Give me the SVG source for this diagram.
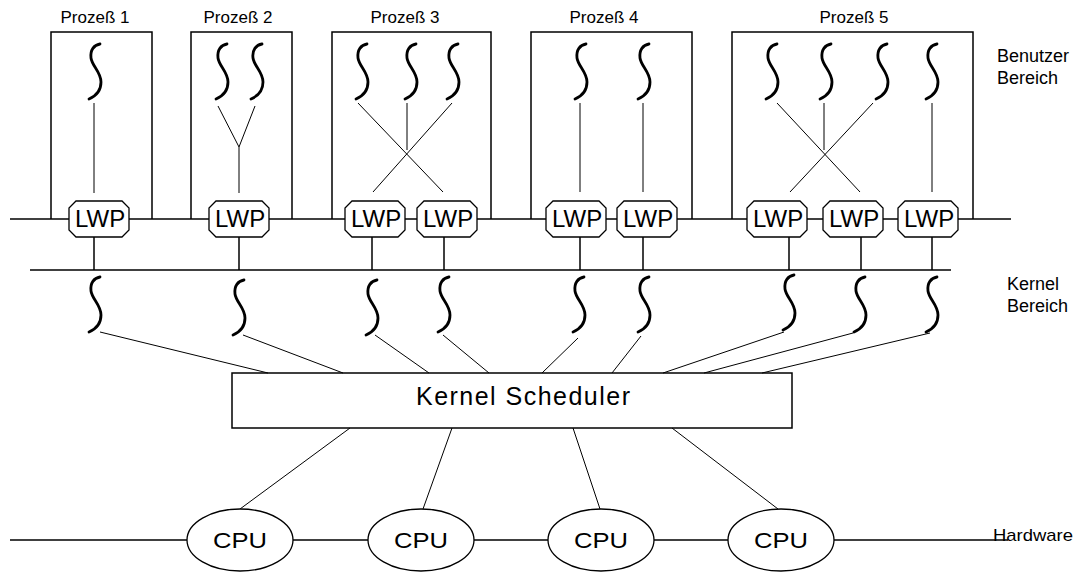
<svg xmlns="http://www.w3.org/2000/svg" width="1078" height="573" viewBox="0 0 1078 573">
<style>
  .ln{stroke:#000;stroke-width:1.5;fill:none}
  .thin{stroke:#000;stroke-width:1;fill:none}
  .box{stroke:#000;stroke-width:1.5;fill:none}
  .lwp{stroke:#000;stroke-width:1.3;fill:#fff}
  .cpu{stroke:#000;stroke-width:1.3;fill:#fff}
  .thr{stroke:#000;stroke-width:2.8;fill:none;stroke-linecap:round}
  text{font-family:"Liberation Sans",Arial,sans-serif;fill:#000}
  .lbl{font-size:17px;text-anchor:middle}
  .side{font-size:18px}
  .lwpt{font-size:24px}
</style>
<defs>
  <path id="t" class="thr" d="M5 0 C-1 1 -5 6 -4 14 C-3 22 6 28 6 38 C6 46 1 52 -6 55"/>
  <path id="lwpShape" class="lwp" d="M7 0 H53 L60 7 V29 L53 36 H7 L0 29 V7 Z"/>
</defs>
<rect width="1078" height="573" fill="#fff"/>

<g id="connectors">
  <line class="ln" x1="10" y1="219" x2="1011" y2="219"/>
  <line class="ln" x1="30" y1="270" x2="951" y2="270"/>
  <line class="ln" x1="10" y1="540" x2="1008" y2="540"/>
  <line class="thin" x1="94" y1="103" x2="94" y2="193"/>
  <polyline class="thin" points="218,106 239,147 255,106"/>
  <line class="thin" x1="239" y1="147" x2="239" y2="193"/>
  <line class="thin" x1="358" y1="103" x2="443" y2="192"/>
  <line class="thin" x1="452" y1="103" x2="373" y2="192"/>
  <line class="thin" x1="407" y1="103" x2="407" y2="150"/>
  <line class="thin" x1="580" y1="103" x2="580" y2="192"/>
  <line class="thin" x1="643" y1="103" x2="643" y2="192"/>
  <line class="thin" x1="777" y1="103" x2="860" y2="192"/>
  <line class="thin" x1="873" y1="103" x2="790" y2="192"/>
  <line class="thin" x1="824" y1="103" x2="824" y2="150"/>
  <line class="thin" x1="932" y1="103" x2="932" y2="192"/>
  <line class="ln" x1="94" y1="237" x2="94" y2="270"/>
  <line class="ln" x1="239" y1="237" x2="239" y2="270"/>
  <line class="ln" x1="372" y1="237" x2="372" y2="270"/>
  <line class="ln" x1="444" y1="237" x2="444" y2="270"/>
  <line class="ln" x1="580" y1="237" x2="580" y2="270"/>
  <line class="ln" x1="643" y1="237" x2="643" y2="270"/>
  <line class="ln" x1="789" y1="237" x2="789" y2="270"/>
  <line class="ln" x1="861" y1="237" x2="861" y2="270"/>
  <line class="ln" x1="932" y1="237" x2="932" y2="270"/>
  <line class="thin" x1="100" y1="332" x2="268" y2="373"/>
  <line class="thin" x1="243" y1="335" x2="343" y2="373"/>
  <line class="thin" x1="375" y1="335" x2="429" y2="373"/>
  <line class="thin" x1="443" y1="335" x2="489" y2="373"/>
  <line class="thin" x1="578" y1="338" x2="542" y2="373"/>
  <line class="thin" x1="641" y1="336" x2="612" y2="373"/>
  <line class="thin" x1="784" y1="332" x2="663" y2="373"/>
  <line class="thin" x1="853" y1="333" x2="704" y2="373"/>
  <line class="thin" x1="930" y1="333" x2="762" y2="373"/>
  <line class="thin" x1="350" y1="428" x2="240" y2="509"/>
  <line class="thin" x1="452" y1="428" x2="423" y2="509"/>
  <line class="thin" x1="573" y1="428" x2="600" y2="509"/>
  <line class="thin" x1="672" y1="428" x2="778" y2="509"/>
</g>

<g id="prozess1">
  <polyline class="box" points="51,219 51,32 152,32 152,219"/>
  <text class="lbl" x="95" y="23">Prozeß 1</text>
  <use href="#t" x="95" y="44"/>
</g>
<g id="prozess2">
  <polyline class="box" points="191,219 191,32 292,32 292,219"/>
  <text class="lbl" x="238" y="23">Prozeß 2</text>
  <use href="#t" x="222" y="44"/>
  <use href="#t" x="257" y="44"/>
</g>
<g id="prozess3">
  <polyline class="box" points="332,219 332,32 491,32 491,219"/>
  <text class="lbl" x="405" y="23">Prozeß 3</text>
  <use href="#t" x="362" y="44"/>
  <use href="#t" x="411" y="44"/>
  <use href="#t" x="453" y="44"/>
</g>
<g id="prozess4">
  <polyline class="box" points="531,219 531,32 692,32 692,219"/>
  <text class="lbl" x="604" y="23">Prozeß 4</text>
  <use href="#t" x="581" y="44"/>
  <use href="#t" x="644" y="44"/>
</g>
<g id="prozess5">
  <polyline class="box" points="732,219 732,32 973,32 973,219"/>
  <text class="lbl" x="854" y="23">Prozeß 5</text>
  <use href="#t" x="772" y="44"/>
  <use href="#t" x="826" y="44"/>
  <use href="#t" x="882" y="44"/>
  <use href="#t" x="932" y="44"/>
</g>

<g id="lwp1"><use href="#lwpShape" x="69" y="201"/><text class="lwpt" x="75" y="227">LWP</text></g>
<g id="lwp2"><use href="#lwpShape" x="209" y="201"/><text class="lwpt" x="215" y="227">LWP</text></g>
<g id="lwp3"><use href="#lwpShape" x="345" y="201"/><text class="lwpt" x="351" y="227">LWP</text></g>
<g id="lwp4"><use href="#lwpShape" x="417" y="201"/><text class="lwpt" x="423" y="227">LWP</text></g>
<g id="lwp5"><use href="#lwpShape" x="546" y="201"/><text class="lwpt" x="552" y="227">LWP</text></g>
<g id="lwp6"><use href="#lwpShape" x="617" y="201"/><text class="lwpt" x="623" y="227">LWP</text></g>
<g id="lwp7"><use href="#lwpShape" x="747" y="201"/><text class="lwpt" x="753" y="227">LWP</text></g>
<g id="lwp8"><use href="#lwpShape" x="823" y="201"/><text class="lwpt" x="829" y="227">LWP</text></g>
<g id="lwp9"><use href="#lwpShape" x="898" y="201"/><text class="lwpt" x="904" y="227">LWP</text></g>

<g id="kernel-threads">
  <use href="#t" x="95" y="277"/>
  <use href="#t" x="239" y="280"/>
  <use href="#t" x="372" y="280"/>
  <use href="#t" x="444" y="277"/>
  <use href="#t" x="579" y="277"/>
  <use href="#t" x="644" y="277"/>
  <use href="#t" x="789" y="275"/>
  <use href="#t" x="860" y="277"/>
  <use href="#t" x="932" y="277"/>
</g>

<g id="scheduler">
  <rect class="box" x="232" y="373" width="560" height="55" fill="#fff"/>
  <text x="416" y="405" font-size="25" textLength="214">Kernel Scheduler</text>
</g>

<g id="cpu1"><ellipse class="cpu" cx="240" cy="540" rx="53" ry="31"/><text x="240" y="548" font-size="22" text-anchor="middle" textLength="54" lengthAdjust="spacingAndGlyphs">CPU</text></g>
<g id="cpu2"><ellipse class="cpu" cx="421" cy="540" rx="53" ry="31"/><text x="421" y="548" font-size="22" text-anchor="middle" textLength="54" lengthAdjust="spacingAndGlyphs">CPU</text></g>
<g id="cpu3"><ellipse class="cpu" cx="601" cy="540" rx="53" ry="31"/><text x="601" y="548" font-size="22" text-anchor="middle" textLength="54" lengthAdjust="spacingAndGlyphs">CPU</text></g>
<g id="cpu4"><ellipse class="cpu" cx="781" cy="540" rx="53" ry="31"/><text x="781" y="548" font-size="22" text-anchor="middle" textLength="54" lengthAdjust="spacingAndGlyphs">CPU</text></g>

<g id="labels">
  <text class="side" x="997" y="62">Benutzer</text>
  <text class="side" x="997" y="84">Bereich</text>
  <text class="side" x="1007" y="290">Kernel</text>
  <text class="side" x="1007" y="312">Bereich</text>
  <text x="993" y="541" font-size="17" textLength="80" lengthAdjust="spacingAndGlyphs">Hardware</text>
</g>
</svg>
